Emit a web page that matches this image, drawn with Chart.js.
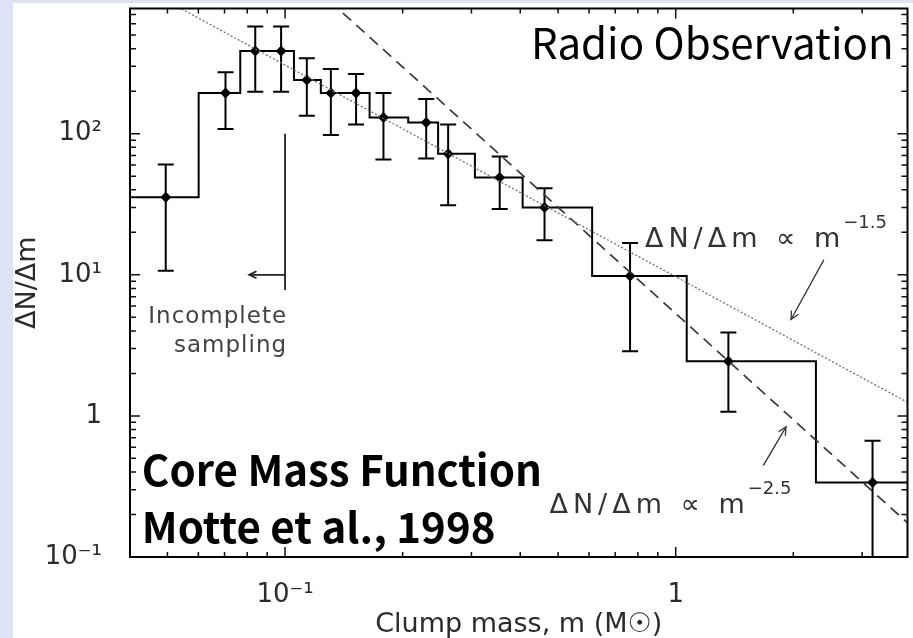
<!DOCTYPE html>
<html>
<head>
<meta charset="utf-8">
<script src="https://cdn.jsdelivr.net/npm/chart.js@4.4.1/dist/chart.umd.min.js"></script>
<style>
  html, body { margin: 0; padding: 0; }
  body { width: 913px; height: 638px; background: #dfe2f6; position: relative; overflow: hidden; }
  #wrap { position: absolute; left: 13px; top: 3px; width: 900px; height: 635px; background: #fff; }
</style>
</head>
<body>
<div id="wrap"><canvas id="cmf" width="900" height="635"></canvas></div>
<script>
/* ===== データ (Motte et al. 1998 のコア質量関数) ===== */
// ヒストグラムのビン境界 (M_sun) と各ビンの値
const binEdges = [0.0401, 0.0601, 0.0768, 0.0905, 0.1054, 0.1235, 0.1413, 0.1646, 0.2067, 0.2465, 0.3062, 0.4057, 0.611, 1.067, 2.285, 5.0];
const binCounts = [35.4, 194, 385, 385, 240, 194, 194, 130, 120, 72, 49, 30, 9.8, 2.44, 0.337];

// データ点と誤差棒
const pointMass = [0.0495, 0.0704, 0.0839, 0.0977, 0.1137, 0.131, 0.152, 0.1786, 0.2298, 0.2615, 0.3544, 0.4615, 0.764, 1.364, 3.19];
const pointCounts = [35.4, 194, 385, 385, 240, 194, 194, 130, 120, 72, 49, 30, 9.8, 2.44, 0.337];
const errHigh = [60.5, 273, 575, 575, 343, 287, 265, 194, 176, 116, 68.9, 41, 16.8, 3.9, 0.667];
const errLow = [10.7, 108, 198, 198, 134, 98, 116, 65.6, 66.7, 31.1, 29.2, 17.6, 2.87, 1.07, 0.1];

// べき乗則の線 (両端)
const slope15Mass = [0.05, 4.0];
const slope15Counts = [867, 1.21];
const slope25Mass = [0.13, 4.0];
const slope25Counts = [872, 0.166];

// 軸目盛り
const xTickVals = [0.1, 1];
const xTickLabels = ['10\u207b\u00b9', '1'];
const yTickVals = [0.1, 1, 10, 100];
const yTickLabels = ['10\u207b\u00b9', '1', '10\u00b9', '10\u00b2'];
const xMinorVals = [0.05, 0.06, 0.07, 0.08, 0.09, 0.2, 0.3, 0.4, 0.5, 0.6, 0.7, 0.8, 0.9, 2, 3];
const yMinorVals = [0.2, 0.3, 0.4, 0.5, 0.6, 0.7, 0.8, 0.9, 2, 3, 4, 5, 6, 7, 8, 9,
  20, 30, 40, 50, 60, 70, 80, 90, 200, 300, 400, 500, 600, 700];

const AXIS_FONT = 'DejaVu Sans';
const INK = '#2b2b2b';

/* -------- 補助描画 -------- */
function arrowHead(ctx, x0, y0, x1, y1, len) {
  const a = Math.atan2(y1 - y0, x1 - x0);
  ctx.beginPath();
  ctx.moveTo(x1 - len * Math.cos(a - 0.45), y1 - len * Math.sin(a - 0.45));
  ctx.lineTo(x1, y1);
  ctx.lineTo(x1 - len * Math.cos(a + 0.45), y1 - len * Math.sin(a + 0.45));
  ctx.stroke();
}

function drawLawLabel(ctx, x, y, sup) {
  ctx.save();
  ctx.fillStyle = '#333';
  ctx.textAlign = 'left';
  ctx.textBaseline = 'alphabetic';
  ctx.font = `27px "${AXIS_FONT}"`;
  ctx.letterSpacing = '5px';
  const base = 'ΔN/Δm ∝ m';
  ctx.fillText(base, x, y);
  const w = ctx.measureText(base).width;
  ctx.font = `18px "${AXIS_FONT}"`;
  ctx.letterSpacing = '0px';
  ctx.fillText(sup, x + w - 2, y - 19);
  ctx.restore();
}

/* -------- プラグイン: 枠・内向き目盛り・誤差棒・注記 -------- */
const framePlugin = {
  id: 'frame',
  beforeDatasetsDraw(chart) {
    const { ctx, chartArea: a, scales: { x, y } } = chart;
    ctx.save();
    ctx.beginPath();
    ctx.rect(a.left, a.top, a.right - a.left, a.bottom - a.top);
    ctx.clip();
    // 誤差棒
    ctx.strokeStyle = '#000';
    ctx.lineWidth = 2;
    pointMass.forEach((m, i) => {
      const px = x.getPixelForValue(m);
      const yh = y.getPixelForValue(errHigh[i]);
      const yl = y.getPixelForValue(errLow[i]);
      ctx.beginPath();
      ctx.moveTo(px, yh); ctx.lineTo(px, yl);
      ctx.moveTo(px - 8, yh); ctx.lineTo(px + 8, yh);
      ctx.moveTo(px - 8, yl); ctx.lineTo(px + 8, yl);
      ctx.stroke();
    });
    ctx.restore();
  },
  afterDatasetsDraw(chart) {
    const { ctx, chartArea: a, scales: { x, y } } = chart;
    ctx.save();
    // 目盛り (内向き)
    ctx.strokeStyle = '#111';
    ctx.lineWidth = 1.5;
    const tickX = (v, len) => {
      const px = x.getPixelForValue(v);
      ctx.beginPath();
      ctx.moveTo(px, a.bottom); ctx.lineTo(px, a.bottom - len);
      ctx.moveTo(px, a.top); ctx.lineTo(px, a.top + len);
      ctx.stroke();
    };
    const tickY = (v, len) => {
      const py = y.getPixelForValue(v);
      ctx.beginPath();
      ctx.moveTo(a.left, py); ctx.lineTo(a.left + len, py);
      ctx.moveTo(a.right, py); ctx.lineTo(a.right - len, py);
      ctx.stroke();
    };
    xTickVals.forEach(v => tickX(v, 10));
    xMinorVals.forEach(v => tickX(v, 5));
    yTickVals.forEach(v => tickY(v, 10));
    yMinorVals.forEach(v => tickY(v, 6));
    // 枠
    ctx.strokeStyle = '#000';
    ctx.lineWidth = 2;
    ctx.strokeRect(a.left, a.top, a.right - a.left, a.bottom - a.top);

    // 不完全サンプリングの線と矢印
    ctx.strokeStyle = '#222';
    ctx.lineWidth = 1.8;
    const lx = x.getPixelForValue(0.1);
    ctx.beginPath();
    ctx.moveTo(lx, y.getPixelForValue(100));
    ctx.lineTo(lx, y.getPixelForValue(7.8));
    ctx.stroke();
    const ay = y.getPixelForValue(10);
    const ax = x.getPixelForValue(0.081);
    ctx.beginPath();
    ctx.moveTo(lx, ay); ctx.lineTo(ax, ay);
    ctx.stroke();
    arrowHead(ctx, lx, ay, ax, ay, 8);

    ctx.fillStyle = '#444';
    ctx.font = `23px "${AXIS_FONT}"`;
    ctx.letterSpacing = '1px';
    ctx.textAlign = 'right';
    ctx.fillText('Incomplete', x.getPixelForValue(0.1012), y.getPixelForValue(4.59));
    ctx.fillText('sampling', x.getPixelForValue(0.1012), y.getPixelForValue(2.82));
    ctx.letterSpacing = '0px';

    // べき乗則のラベルと矢印
    drawLawLabel(ctx, x.getPixelForValue(0.834), y.getPixelForValue(15.7), '\u22121.5');
    drawLawLabel(ctx, x.getPixelForValue(0.475), y.getPixelForValue(0.204), '\u22122.5');
    ctx.strokeStyle = '#333';
    ctx.lineWidth = 1.3;
    const arrows = [
      [2.394, 12.75, 1.973, 4.82],
      [1.675, 0.4446, 1.916, 0.8366]
    ];
    arrows.forEach(([m0, n0, m1, n1]) => {
      const x0 = x.getPixelForValue(m0), y0 = y.getPixelForValue(n0);
      const x1 = x.getPixelForValue(m1), y1 = y.getPixelForValue(n1);
      ctx.beginPath();
      ctx.moveTo(x0, y0); ctx.lineTo(x1, y1);
      ctx.stroke();
      arrowHead(ctx, x0, y0, x1, y1, 9);
    });

    // 大きな見出し
    ctx.fillStyle = '#000';
    ctx.font = '42px "Noto Sans CJK JP"';
    ctx.textAlign = 'right';
    ctx.fillText('Radio Observation', x.getPixelForValue(3.61), y.getPixelForValue(337));
    ctx.font = 'bold 42px "Noto Sans CJK JP"';
    ctx.textAlign = 'left';
    ctx.fillText('Core Mass Function', x.getPixelForValue(0.043), y.getPixelForValue(0.321));
    ctx.fillText('Motte et al., 1998', x.getPixelForValue(0.043), y.getPixelForValue(0.1256));
    ctx.restore();
  }
};

/* -------- グラフ生成 -------- */
const histData = binEdges.map((m, i) => ({ x: m, y: binCounts[Math.min(i, binCounts.length - 1)] }));
const pointData = pointMass.map((m, i) => ({ x: m, y: pointCounts[i] }));
const law15 = slope15Mass.map((m, i) => ({ x: m, y: slope15Counts[i] }));
const law25 = slope25Mass.map((m, i) => ({ x: m, y: slope25Counts[i] }));

new Chart(document.getElementById('cmf').getContext('2d'), {
  type: 'scatter',
  data: {
    datasets: [
      {
        label: 'm^-1.5',
        data: law15,
        showLine: true,
        borderColor: '#707070',
        borderWidth: 1.3,
        borderDash: [2, 2],
        pointRadius: 0,
        clip: 0
      },
      {
        label: 'm^-2.5',
        data: law25,
        showLine: true,
        borderColor: '#3a3a3a',
        borderWidth: 1.7,
        borderDash: [11, 7],
        pointRadius: 0,
        clip: 0
      },
      {
        label: 'histogram',
        data: histData,
        showLine: true,
        stepped: true,
        borderColor: '#000',
        borderWidth: 2,
        pointRadius: 0,
        clip: 0
      },
      {
        label: 'points',
        data: pointData,
        pointStyle: 'rectRot',
        pointRadius: 5.5,
        backgroundColor: '#000',
        borderWidth: 0
      }
    ]
  },
  options: {
    responsive: false,
    animation: false,
    layout: { padding: { top: 4, right: 1, left: 0, bottom: 0 } },
    plugins: { legend: { display: false }, tooltip: { enabled: false } },
    scales: {
      x: {
        type: 'logarithmic',
        min: 0.0401,
        max: 3.92,
        afterBuildTicks: s => { s.ticks = xTickVals.map(v => ({ value: v })); },
        afterFit: s => { s.height = 81; s.paddingLeft = 0; s.paddingRight = 0; },
        grid: { display: false },
        border: { display: false },
        ticks: {
          callback: (v, i) => xTickLabels[i],
          font: { family: AXIS_FONT, size: 26 },
          color: INK,
          padding: 15,
          maxRotation: 0
        },
        title: {
          display: true,
          text: 'Clump mass, m (M\u2609)',
          font: { family: AXIS_FONT, size: 27, lineHeight: 1 },
          color: INK,
          padding: 0
        }
      },
      y: {
        type: 'logarithmic',
        min: 0.1,
        max: 771,
        afterBuildTicks: s => { s.ticks = yTickVals.map(v => ({ value: v })); },
        afterFit: s => { s.width = 117; s.paddingTop = 0; s.paddingBottom = 0; },
        grid: { display: false },
        border: { display: false },
        ticks: {
          callback: (v, i) => yTickLabels[i],
          font: { family: AXIS_FONT, size: 26 },
          color: INK,
          padding: 20
        },
        title: {
          display: true,
          text: 'ΔN/Δm',
          font: { family: AXIS_FONT, size: 27, lineHeight: 1.1 },
          color: INK,
          padding: 0
        }
      }
    }
  },
  plugins: [framePlugin]
});
</script>
</body>
</html>
